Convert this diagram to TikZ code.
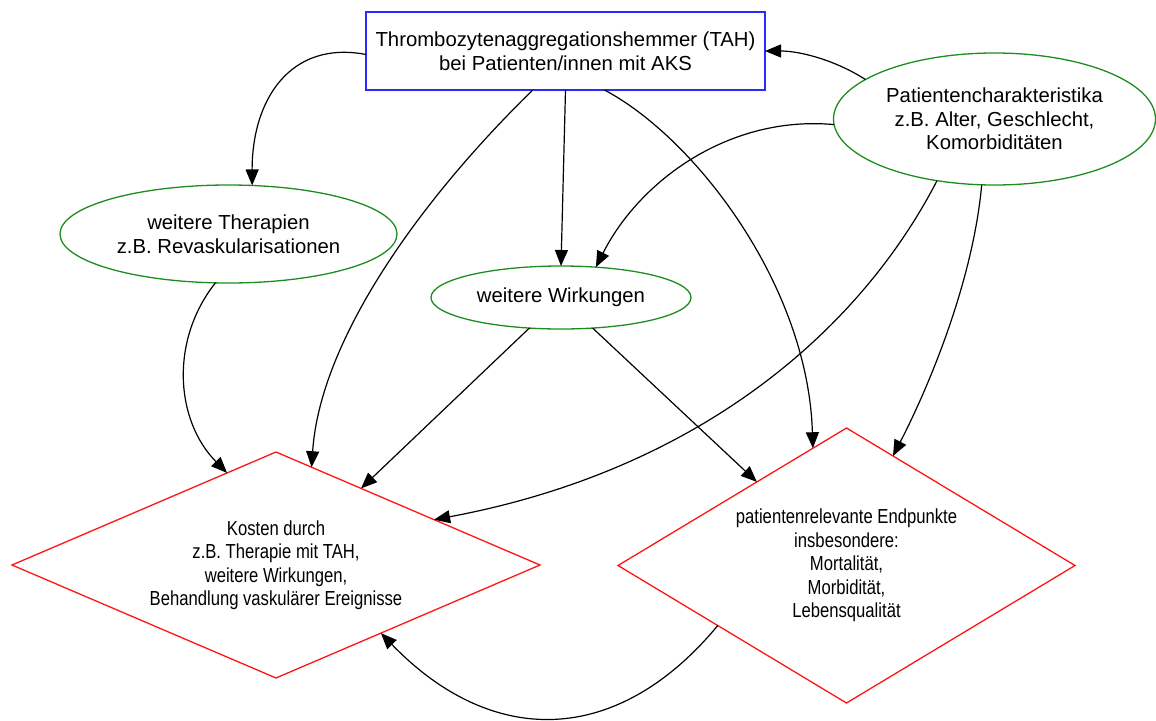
\documentclass[tikz,border=0pt]{standalone}
\usepackage{fontspec}
\setmainfont{Liberation Sans}
\newfontfamily\narrowFont{Liberation Sans}[FakeStretch=0.82]
\usetikzlibrary{shapes.geometric,arrows.meta}

\definecolor{boxBlue}{RGB}{40,40,255}
\definecolor{ovalGreen}{RGB}{30,140,30}
\definecolor{diaRed}{RGB}{255,20,20}

\def\textSize{\fontsize{20.3}{23.5}\selectfont}

\begin{document}
\begin{tikzpicture}[x=1pt,y=-1pt,
    every node/.style={inner sep=0pt,outer sep=0pt,align=center,font=\textSize},
    mainbox/.style={draw=boxBlue,line width=1.6pt,rectangle,minimum width=399pt,minimum height=78pt},
    oval/.style={draw=ovalGreen,line width=1.3pt,ellipse},
    rhomb/.style={draw=diaRed,line width=1.3pt,diamond,font=\narrowFont\textSize},
    link/.style={line width=1.2pt,-{Triangle[length=16pt,width=13pt]}}]

    \useasboundingbox (0,0) rectangle (1156,720);

    \node[mainbox] (tah) at (565.5,51) {Thrombozytenaggregationshemmer (TAH)\\bei Patienten/innen mit AKS};
    \node[oval,minimum width=322pt,minimum height=132pt] (pat) at (994.5,119) {Patientencharakteristika\\z.B. Alter, Geschlecht,\\Komorbiditäten};
    \node[oval,minimum width=337pt,minimum height=98pt] (ther) at (228.5,234) {weitere Therapien\\z.B. Revaskularisationen};
    \node[oval,minimum width=260pt,minimum height=63pt] (wirk) at (561,297.5) {weitere Wirkungen};
    \node[rhomb,shape aspect=2.336,minimum width=528pt,minimum height=226pt] (kost) at (276,565) {Kosten durch\\z.B. Therapie mit TAH,\\weitere Wirkungen,\\Behandlung vaskulärer Ereignisse};
    \node[rhomb,shape aspect=1.662,minimum width=457pt,minimum height=275pt] (endp) at (846.5,565.5) {patientenrelevante Endpunkte\\insbesondere:\\Mortalität,\\Morbidität,\\Lebensqualität};

    \draw[link] (tah.181) .. controls (290,40) and (252,100) .. (ther.64);
    \draw[link] (pat.163) .. controls (835,60) and (800,51) .. (tah.east);
    \draw[link] (tah.230) .. controls (420,200) and (320,340) .. (kost.70);
    \draw[link] (tah.south) -- (wirk.north);
    \draw[link] (tah.-45) .. controls (695,138) and (808,285) .. (endp.106);
    \draw[link] (pat.182) .. controls (730,115) and (640,180) .. (wirk.41);
    \draw[link] (pat.227) .. controls (860,330) and (700,470) .. (kost.16);
    \draw[link] (pat.259) .. controls (972,290) and (922,400) .. (endp.67);
    \draw[link] (ther.255) .. controls (170,340) and (175,420) .. (kost.118);
    \draw[link] (wirk.224) -- (kost.42);
    \draw[link] (wirk.-44) -- (endp.137);
    \draw[link] (endp.205) .. controls (617,747) and (492,748) .. (kost.-33);
  \end{tikzpicture}
\end{document}
